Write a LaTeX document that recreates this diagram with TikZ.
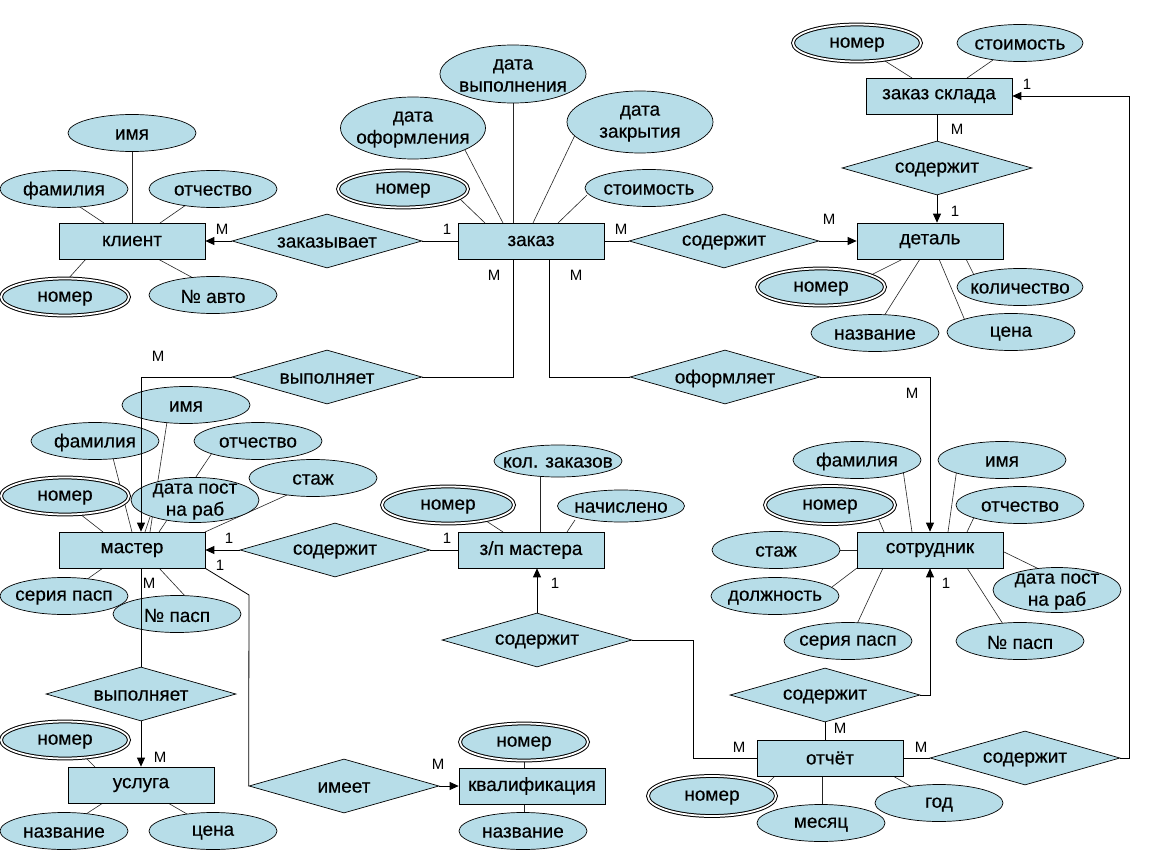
\documentclass[tikz,border=0pt]{standalone}
\usepackage{fontspec}
\setmainfont{Liberation Sans}[FakeBold=0.35]
\newfontfamily\thinfont{Liberation Sans}
\usetikzlibrary{shapes.geometric,arrows.meta,backgrounds}
\definecolor{fillc}{RGB}{183,221,232}
\newcommand\fs{\fontsize{19}{22}\selectfont}
\newcommand\ls{\thinfont\fontsize{15}{17}\selectfont}
\newcommand\attline[4]{\draw[al] ([shift={(#2)}]#1.center) -- ([shift={(#4)}]#3.center);}
\begin{document}
\begin{tikzpicture}[x=1pt,y=-1pt,
  txt/.style={label={[font=\fs,align=center,inner sep=0pt,yshift=-1.5pt]center:#1}},
  ent/.style={draw=black,line width=0.7pt,fill=fillc,minimum width=146pt,minimum height=36pt,inner sep=0pt,font=\fs},
  rel/.style={diamond,draw=black,line width=0.7pt,fill=fillc,minimum width=190pt,minimum height=54pt,inner sep=0pt,aspect=3.5},
  att/.style={ellipse,draw=black,line width=0.7pt,fill=fillc,minimum width=128pt,minimum height=37pt,inner sep=0pt},
  key/.style={att,double=white,double distance=1.8pt,line width=1pt},
  al/.style={line width=0.6pt,black!85},
  cn/.style={line width=0.8pt,black},
  arr/.style={cn,-{Triangle[length=9pt,width=8pt]}},
  card/.style={font=\ls,inner sep=0pt}
]
\useasboundingbox (0,0) rectangle (1152,864);
% entities
\node[ent] (kl) at (132,241) {клиент};
\node[ent] (zak) at (531,241) {заказ};
\node[ent] (zs) at (939,96) {заказ склада};
\node[ent] (det) at (930,241) {деталь};
\node[ent] (mas) at (132,550) {мастер};
\node[ent] (zp) at (531,550) {з/п мастера};
\node[ent] (sot) at (930,550) {сотрудник};
\node[ent] (usl) at (141,785) {услуга};
\node[ent] (kv) at (532,786) {квалификация};
\node[ent] (otch) at (830,758) {отчёт};
% relationships
\node[rel,txt=заказывает] (r1) at (327,241) {};
\node[rel,txt=содержит] (r2) at (724,241) {};
\node[rel,txt=содержит] (r3) at (937,168) {};
\node[rel,txt=выполняет] (r4) at (327,377) {};
\node[rel,txt=оформляет] (r5) at (725,377) {};
\node[rel,txt=содержит] (r6) at (335,550) {};
\node[rel,txt=содержит] (r7) at (537,640) {};
\node[rel,txt=выполняет] (r8) at (141,694) {};
\node[rel,txt=имеет] (r9) at (344,786) {};
\node[rel,txt=содержит] (r10) at (825,695) {};
\node[rel,txt=содержит] (r11) at (1025,758) {};
% attributes: client
\node[att,txt=имя] (kim) at (132,133) {};
\node[att,txt=фамилия] (kfam) at (64,189) {};
\node[att,txt=отчество] (kot) at (213,189) {};
\node[key,txt=номер] (knom) at (65,297) {};
\node[att,txt=№ авто] (kavto) at (213,295) {};
% order
\node[att,minimum width=146pt,minimum height=58pt,txt={дата\\выполнения}] (zvyp) at (513,74) {};
\node[att,minimum width=145pt,minimum height=62pt,txt={дата\\оформления}] (zofo) at (413,128) {};
\node[att,minimum width=146pt,minimum height=62pt,txt={дата\\закрытия}] (zzak) at (640,122) {};
\node[key,minimum width=130pt,txt=номер] (znom) at (403,189) {};
\node[att,txt=стоимость] (zst) at (649,188) {};
% warehouse order
\node[key,txt=номер] (zsnom) at (857,43) {};
\node[att,minimum width=126pt,txt=стоимость] (zsst) at (1020,43) {};
% part
\node[key,txt=номер] (dnom) at (821,287) {};
\node[att,minimum width=126pt,txt=количество] (dkol) at (1020,287) {};
\node[att,txt=название] (dnaz) at (875,333) {};
\node[att,txt=цена] (dcena) at (1011,332) {};
% master
\node[att,txt=имя] (mim) at (186,405) {};
\node[att,txt=фамилия] (mfam) at (95,441) {};
\node[att,txt=отчество] (mot) at (258,441) {};
\node[att,txt=стаж] (mst) at (313,478) {};
\node[key,txt=номер] (mnom) at (65,496) {};
\node[att,minimum height=45pt,txt={дата пост\\на раб}] (mdp) at (195,500) {};
\node[att,txt=серия пасп] (mser) at (64,596) {};
\node[att,txt=№ пасп] (mpas) at (177,614) {};
% salary
\node[key,minimum width=132pt,txt=номер] (zpnom) at (448,505) {};
\node[att,minimum height=32pt,txt=кол. заказов] (zpkol) at (558,461) {};
\node[att,minimum width=127pt,minimum height=32pt,txt=начислено] (zpnach) at (621,506) {};
% employee
\node[att,txt=фамилия] (sfam) at (857,460) {};
\node[att,txt=имя] (sim) at (1002,460) {};
\node[key,minimum width=130pt,minimum height=38pt,txt=номер] (snom) at (830,505) {};
\node[att,txt=отчество] (sot2) at (1020,505) {};
\node[att,txt=стаж] (sst) at (776,550) {};
\node[att,txt=должность] (sdol) at (775,596) {};
\node[att,minimum height=45pt,txt={дата пост\\на раб}] (sdp) at (1057,590) {};
\node[att,txt=серия пасп] (sser) at (848,641) {};
\node[att,txt=№ пасп] (spas) at (1020,641) {};
% service
\node[key,txt=номер] (unom) at (65,740) {};
\node[att,txt=название] (unaz) at (64,831) {};
\node[att,txt=цена] (ucena) at (213,831) {};
% qualification
\node[key,txt=номер] (kvnom) at (524,742) {};
\node[att,txt=название] (kvnaz) at (523,831) {};
% report
\node[key,minimum height=40pt,txt=номер] (onom) at (712,796) {};
\node[att,txt=месяц] (omes) at (821,823) {};
\node[att,txt=год] (ogod) at (939,803) {};
% attribute lines behind
\begin{scope}[on background layer]
\fill[white] (0,0) rectangle (1152,864);
\draw[al] (kl) -- (kim);
\attline{kl}{-28,-18}{kfam}{13,16}
\attline{kl}{28,-18}{kot}{-27,16}
\attline{kl}{-46,18}{knom}{3,-18}
\attline{kl}{26,18}{kavto}{-18,-16}
\attline{zak}{-18,-18}{zvyp}{0,0}
\attline{zak}{-28,-18}{zofo}{52,22}
\attline{zak}{2,-18}{zzak}{-65,13}
\attline{zak}{-46,-18}{znom}{57,10}
\attline{zak}{27,-18}{zst}{-62,7}
\attline{zs}{-27,-18}{zsnom}{28,18}
\attline{zs}{28,-18}{zsst}{-27,17}
\attline{det}{-27,18}{dnom}{50,-12}
\attline{det}{36,18}{dkol}{-45,-10}
\attline{det}{-10,18}{dnaz}{9,-17}
\attline{det}{9,18}{dcena}{-45,-9}
\attline{mas}{0,-18}{mfam}{18,17}
\attline{mas}{18,-18}{mim}{-19,17}
\attline{mas}{27,-18}{mot}{-44,9}
\attline{mas}{13,-18}{mdp}{-45,17}
\attline{mas}{73,-18}{mst}{-26,17}
\attline{mas}{-29,-18}{mnom}{15,18}
\attline{mas}{-29,18}{mser}{22,-16}
\attline{mas}{27,18}{mpas}{9,-17}
\attline{zp}{-28,-18}{zpnom}{29,10}
\attline{zp}{9,-18}{zpkol}{-18,15}
\attline{zp}{36,-18}{zpnach}{-46,14}
\attline{sot}{-18,-18}{sfam}{46,10}
\attline{sot}{18,-18}{sim}{-45,8}
\attline{sot}{-46,-18}{snom}{46,8}
\attline{sot}{37,-18}{sot2}{-44,8}
\attline{sot}{-73,0}{sst}{63,0}
\attline{sot}{-73,18}{sdol}{57,-9}
\attline{sot}{72,1}{sdp}{-18,-21}
\attline{sot}{-47,18}{sser}{9,-17}
\attline{sot}{37,18}{spas}{-17,-17}
\attline{usl}{-46,-18}{unom}{20,17}
\attline{usl}{-38,18}{unaz}{22,-17}
\attline{usl}{27,18}{ucena}{-26,-17}
\attline{kv}{-8,-18}{kvnom}{0,18}
\attline{kv}{-8,18}{kvnaz}{1,-17}
\attline{otch}{-55,18}{onom}{56,-13}
\attline{otch}{-8,18}{omes}{1,-17}
\attline{otch}{63,18}{ogod}{-27,-16}
\end{scope}
% connectors
\draw[cn] (zak.west) -- (r1.east);
\draw[arr] (r1.west) -- (kl.east);
\draw[cn] (zak.east) -- (r2.west);
\draw[arr] (r2.east) -- (det.west);
\draw[cn] (r3.north) -- (r3.north |- zs.south);
\draw[arr] (r3.south) -- (r3.south |- det.north);
\draw[arr] (r11.east) -| ([xshift=117]zs.east) -- (zs.east);
\draw[cn] ([xshift=-18]zak.south) |- (r4.east);
\draw[arr] (r4.west) -| ([xshift=9]mas.north);
\draw[cn] ([xshift=18]zak.south) |- (r5.west);
\draw[arr] (r5.east) -| (sot.north);
\draw[cn] (zp.west) -- (r6.east);
\draw[arr] (r6.west) -- (mas.east);
\draw[arr] (r7.north) -- (r7.north |- zp.south);
\draw[cn] (r7.east) -| ([xshift=-63]otch.west) -- (otch.west);
\draw[cn] ([xshift=9]mas.south) -- (r8.north);
\draw[arr] (r8.south) -- (usl.north);
\coordinate (c9) at (249,595);
\draw[cn] (mas.south east) -- (c9) -- (r9.west);
\draw[arr] (r9.east) -- (kv.west);
\draw[cn] (r10.south) -- (r10.south |- otch.north);
\draw[arr] (r10.east) -| (sot.south);
\draw[cn] (otch.east) -- (r11.west);
% cardinalities
\node[card] (m1) at (222,229) {М};
\node[card] (m2) at (447,229) {1};
\node[card] (m3) at (621,229) {М};
\node[card] (m4) at (829,219) {М};
\node[card] (m5) at (957,129) {М};
\node[card] (m6) at (955,211) {1};
\node[card] (m7) at (1027,84) {1};
\node[card] (m8) at (494,275) {М};
\node[card] (m9) at (576,275) {М};
\node[card] (m10) at (158,356) {М};
\node[card] (m11) at (912,393) {М};
\node[card] (m12) at (229,538) {1};
\node[card] (m13) at (220,565) {1};
\node[card] (m14) at (447,538) {1};
\node[card] (m15) at (149,583) {М};
\node[card] (m16) at (160,757) {М};
\node[card] (m17) at (438,764) {М};
\node[card] (m18) at (555,583) {1};
\node[card] (m19) at (946,583) {1};
\node[card] (m20) at (840,728) {М};
\node[card] (m21) at (739,747) {М};
\node[card] (m22) at (921,747) {М};
\end{tikzpicture}
\end{document}
